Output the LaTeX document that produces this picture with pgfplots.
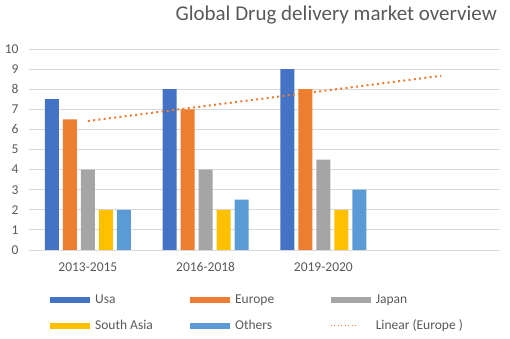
\documentclass[border=0pt]{standalone}
\usepackage{pgfplots}
\pgfplotsset{compat=1.18}
\usepackage{fontspec}
\setmainfont{Carlito}
\definecolor{cUsa}{HTML}{4472C4}
\definecolor{cEur}{HTML}{ED7D31}
\definecolor{cJap}{HTML}{A5A5A5}
\definecolor{cSA}{HTML}{FFC000}
\definecolor{cOth}{HTML}{5B9BD5}
\definecolor{gridgray}{HTML}{D9D9D9}
\definecolor{txt}{HTML}{595959}
\pgfplotsset{mybar/.style={ybar, bar width=14pt, bar shift=#1, draw=none}}
\newcommand{\legent}[1]{\makebox[96pt][l]{\hspace{3pt}#1}}
\begin{document}
\begin{tikzpicture}[x=1pt,y=1pt]
\path[use as bounding box] (0,0) rectangle (510,339);
\begin{axis}[at={(29pt,89pt)}, anchor=south west, scale only axis,
  width=471pt, height=201pt,
  xmin=-0.5, xmax=3.5, ymin=0, ymax=10,
  ytick={0,1,...,10}, xtick={0,1,2},
  xticklabels={2013-2015,2016-2018,2019-2020},
  axis line style={draw=none}, major tick length=0pt, tick style={draw=none},
  ymajorgrids, grid style={draw=gridgray, line width=0.8pt},
  ticklabel style={font=\fontsize{13.5}{15}\selectfont, text=txt},
  yticklabel style={xshift=-7pt},
  xticklabel style={yshift=-9pt},
  /pgf/number format/assume math mode=true,
  clip=false,
  legend columns=3,
  legend style={draw=none, fill=none, inner sep=0pt, row sep=11pt,
    at={(rel axis cs:0.0445,-0.2115)}, anchor=north west,
    nodes={inner sep=2pt, font=\fontsize{13.5}{15}\selectfont, text=txt}},
  legend cell align=left,
]
\addplot[mybar=-36pt, fill=cUsa, legend image code/.code={\fill[cUsa] (0pt,-3pt) rectangle (40pt,3pt);}]
  coordinates {(0,7.5) (1,8) (2,9)};
\addlegendentry{\legent{Usa}}
\addplot[mybar=-18pt, fill=cEur, legend image code/.code={\fill[cEur] (0pt,-3pt) rectangle (40pt,3pt);}]
  coordinates {(0,6.5) (1,7) (2,8)};
\addlegendentry{\legent{Europe}}
\addplot[mybar=0pt, fill=cJap, legend image code/.code={\fill[cJap] (0pt,-3pt) rectangle (40pt,3pt);}]
  coordinates {(0,4) (1,4) (2,4.5)};
\addlegendentry{\legent{Japan}}
\addplot[mybar=18pt, fill=cSA, legend image code/.code={\fill[cSA] (0pt,-3pt) rectangle (40pt,3pt);}]
  coordinates {(0,2) (1,2) (2,2)};
\addlegendentry{\legent{South Asia}}
\addplot[mybar=36pt, fill=cOth, legend image code/.code={\fill[cOth] (0pt,-3pt) rectangle (40pt,3pt);}]
  coordinates {(0,2) (1,2.5) (2,3)};
\addlegendentry{\legent{Others}}
\addplot[cEur, line width=2pt, dash pattern=on 2pt off 3.3pt, line cap=butt,
  legend image code/.code={\path[draw=none, fill=none] (0pt,-3pt) rectangle (40pt,3pt);
    \draw[cEur, line width=1.2pt, dash pattern=on 1.2pt off 2.3pt] (0pt,0pt) -- (28pt,0pt);}]
  coordinates {(0,6.4167) (3,8.6667)};
\addlegendentry{\legent{Linear (Europe )}}
\end{axis}
\node[anchor=east, inner sep=0pt, text=txt, font=\fontsize{21}{23}\selectfont] at (497,324) {Global Drug delivery market overview};
\end{tikzpicture}
\end{document}
